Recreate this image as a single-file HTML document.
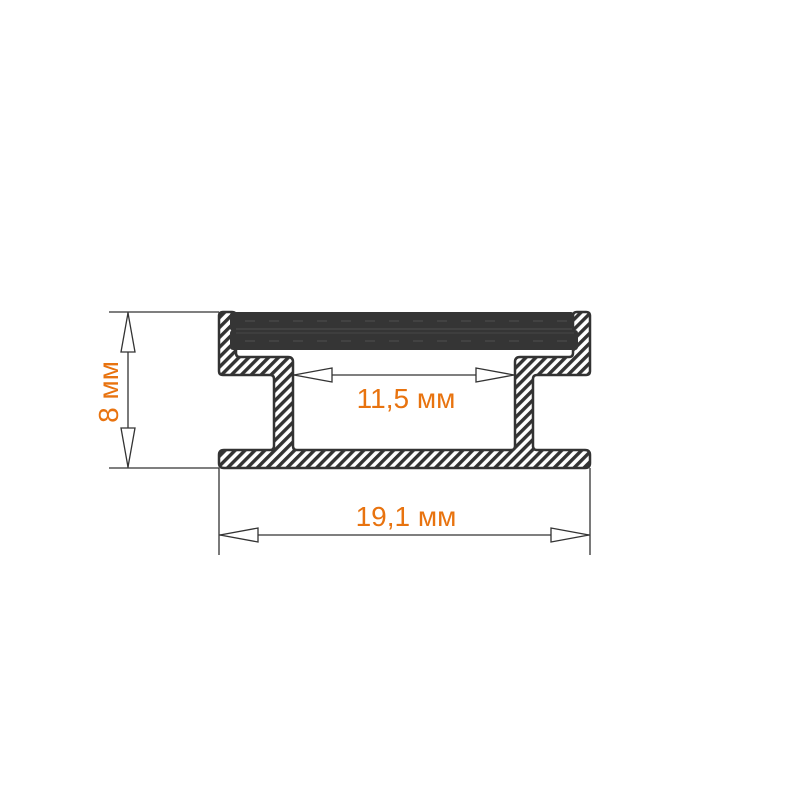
<!DOCTYPE html>
<html><head><meta charset="utf-8"><style>
html,body{margin:0;padding:0;background:#fff;}
svg{display:block;}
text{font-family:"Liberation Sans",sans-serif;fill:#e8730f;}
</style></head><body>
<svg width="810" height="810" viewBox="0 0 810 810">
<defs>
<pattern id="h" patternUnits="userSpaceOnUse" width="7" height="7" patternTransform="rotate(45)">
<rect width="7" height="7" fill="#fff"/>
<rect width="3.4" height="7" fill="#333"/>
</pattern>
</defs>
<path d="M223,312 L232,312 Q236,312 236,316 L236,353 Q236,357 240,357 L288,357 Q293,357 293,362 L293,446 Q293,450 297,450 L511,450 Q515,450 515,446 L515,362 Q515,357 520,357 L569,357 Q573,357 573,353 L573,316 Q573,312 577,312 L586,312 Q590,312 590,316 L590,371 Q590,375 586,375 L537,375 Q533,375 533,379 L533,446 Q533,450 537,450 L585,450 Q590,450 590,455 L590,463 Q590,468 585,468 L224,468 Q219,468 219,463 L219,455 Q219,450 224,450 L270,450 Q274,450 274,446 L274,379 Q274,375 270,375 L223,375 Q219,375 219,371 L219,316 Q219,312 223,312 Z" fill="url(#h)" stroke="#333" stroke-width="2.5"/>
<rect x="230" y="312" width="344" height="19" rx="3" fill="#353535"/>
<rect x="230" y="330" width="348" height="20" rx="3" fill="#353535"/>
<line x1="236" y1="329" x2="572" y2="329" stroke="#505050" stroke-width="1"/>
<line x1="236" y1="333" x2="574" y2="333" stroke="#484848" stroke-width="1"/>
<line x1="245" y1="321" x2="570" y2="321" stroke="#5a5a5a" stroke-width="0.8" stroke-dasharray="10,14"/>
<line x1="245" y1="341" x2="570" y2="341" stroke="#5a5a5a" stroke-width="0.8" stroke-dasharray="10,14"/>
<g stroke="#333" stroke-width="1.3" fill="#fff">
<line x1="109" y1="312" x2="219" y2="312"/>
<line x1="109" y1="468" x2="219" y2="468"/>
<line x1="128" y1="312" x2="128" y2="468"/>
<polygon points="128,313 121,352 135,352"/>
<polygon points="128,467 121,428 135,428"/>
<line x1="219" y1="468" x2="219" y2="555"/>
<line x1="590" y1="468" x2="590" y2="555"/>
<line x1="219" y1="535" x2="590" y2="535"/>
<polygon points="220,535 258,528 258,542"/>
<polygon points="589,535 551,528 551,542"/>
<line x1="293" y1="375" x2="515" y2="375"/>
<polygon points="294,375 332,368 332,382"/>
<polygon points="514,375 476,368 476,382"/>
</g>
<text x="406" y="408" font-size="28" text-anchor="middle">11,5 мм</text>
<text x="406" y="526" font-size="28" text-anchor="middle">19,1 мм</text>
<text x="0" y="0" font-size="28" text-anchor="middle" transform="translate(118,392) rotate(-90)">8 мм</text>
</svg>
</body></html>
